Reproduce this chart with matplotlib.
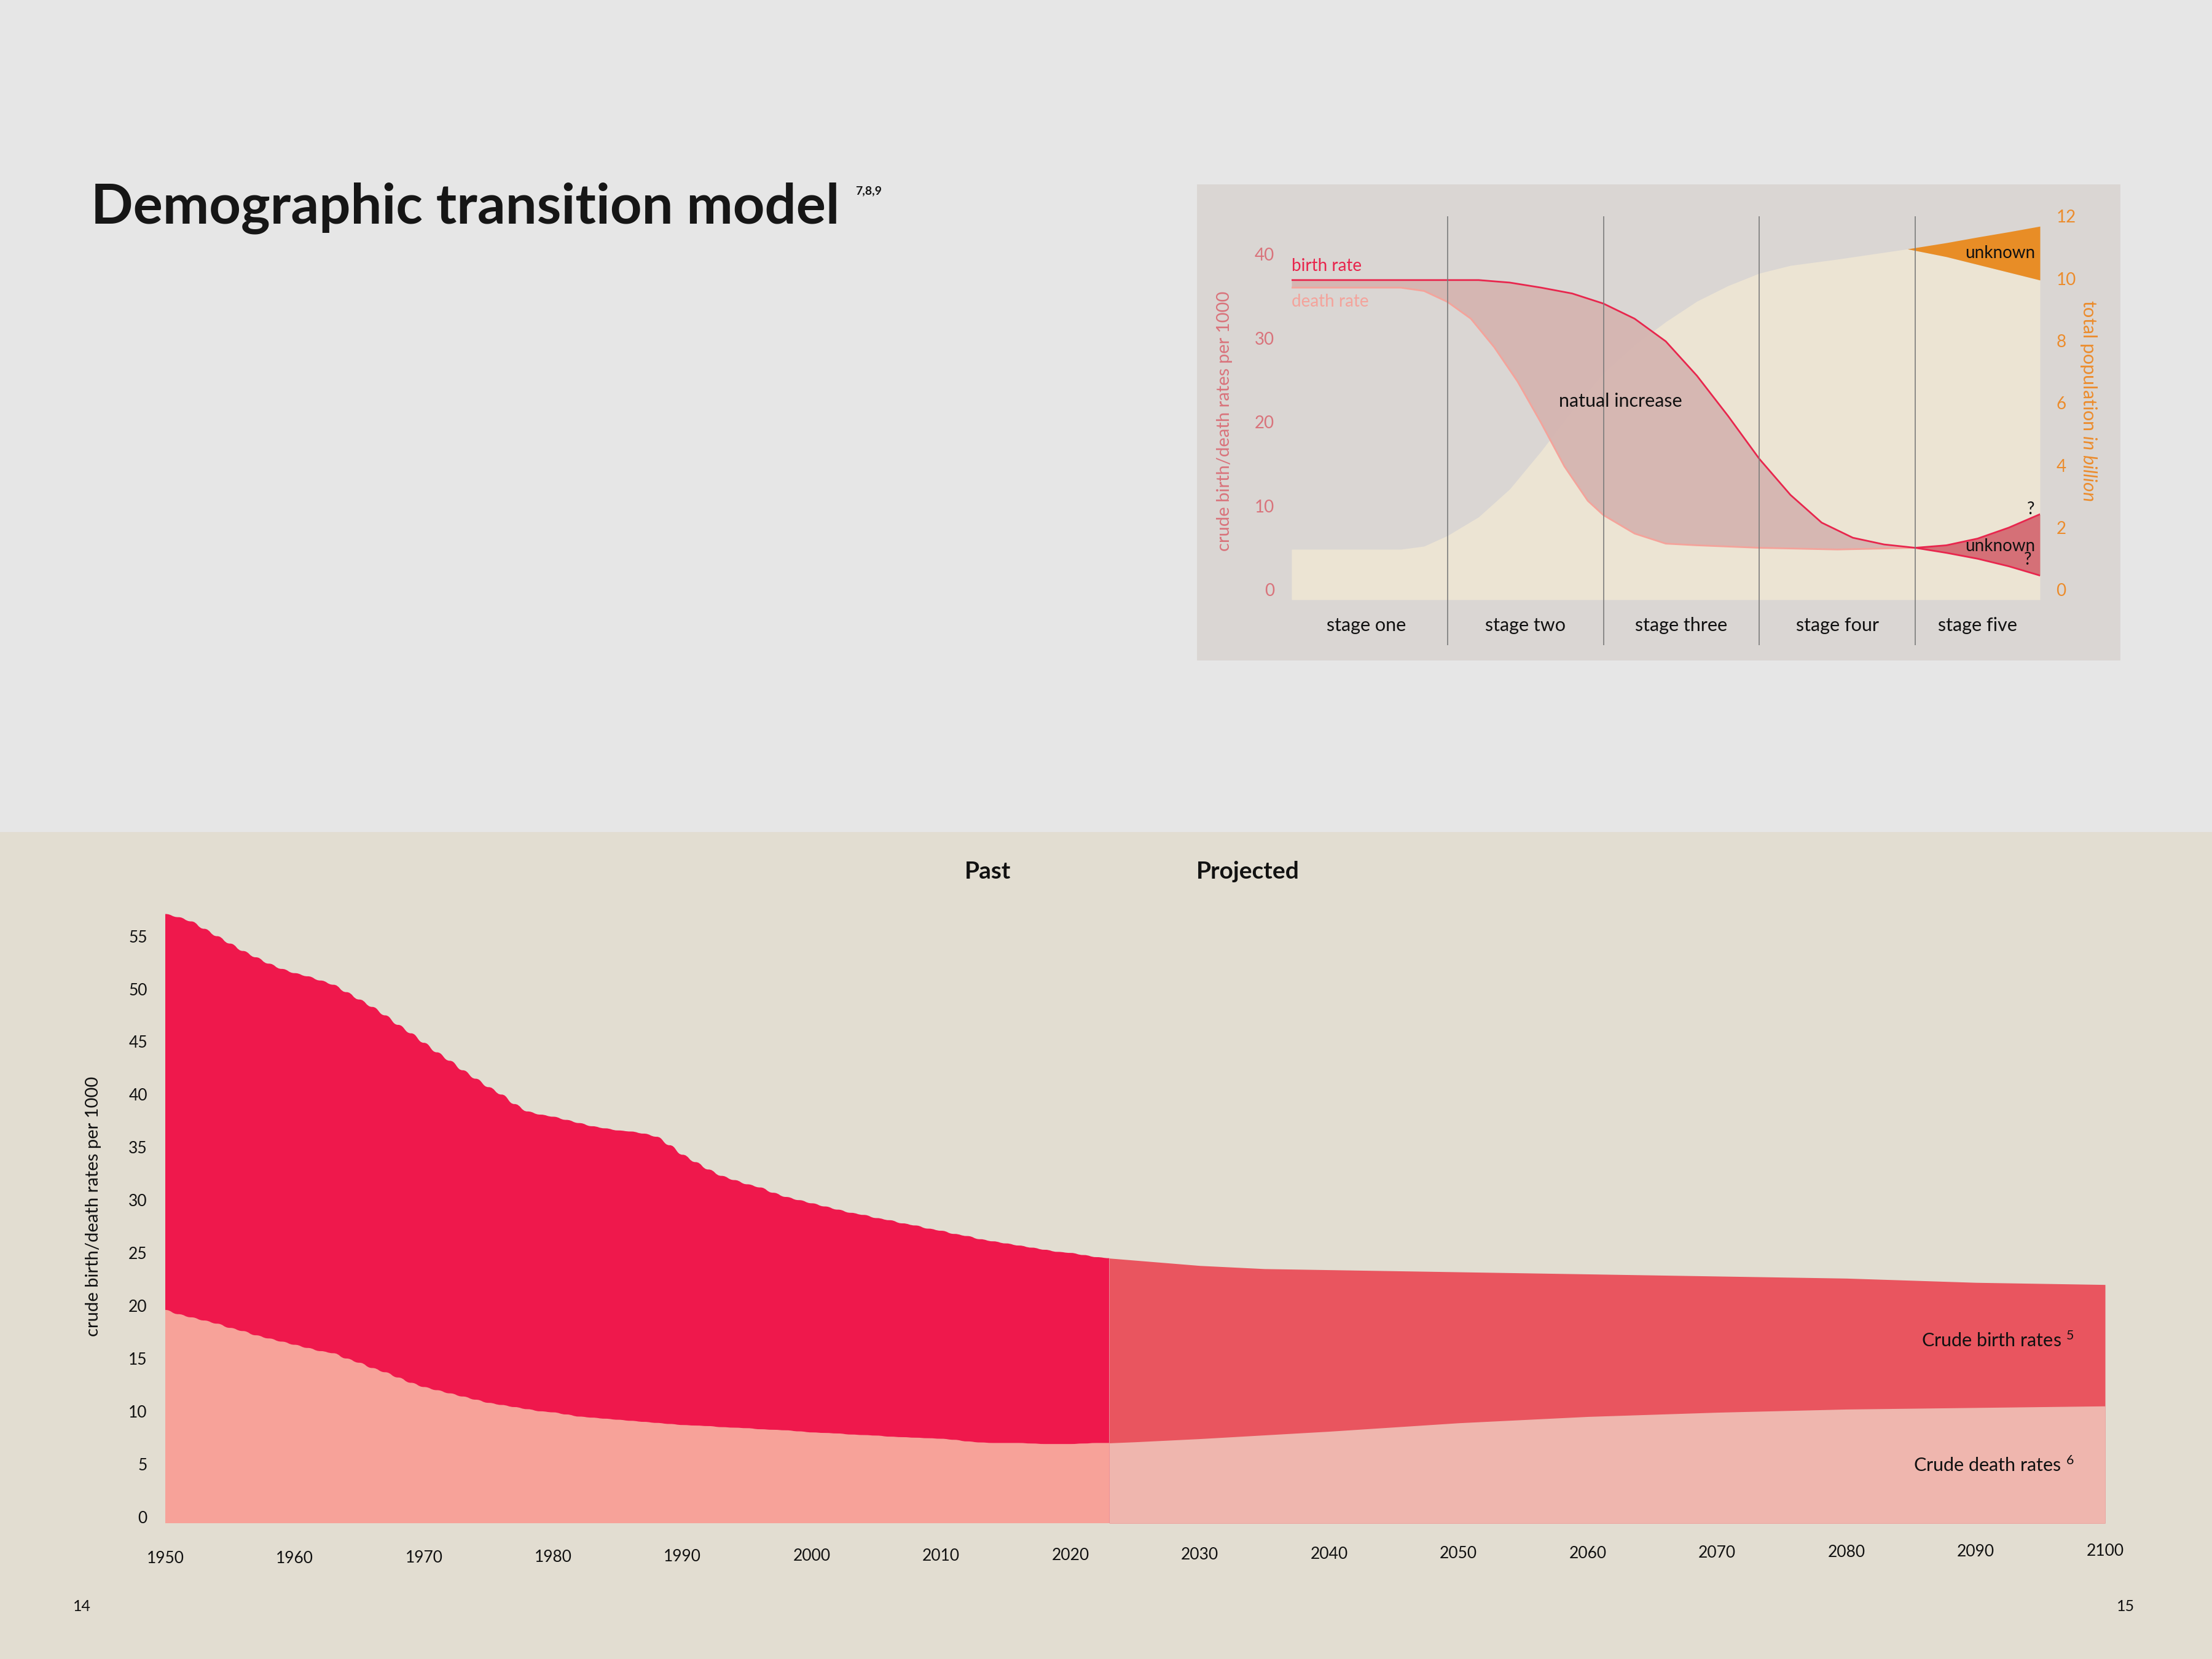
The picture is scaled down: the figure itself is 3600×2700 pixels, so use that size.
import numpy as np
import matplotlib
matplotlib.use('Agg')
import matplotlib.pyplot as plt
from matplotlib.path import Path
from matplotlib.patches import PathPatch, Rectangle
import matplotlib.transforms as mtransforms

plt.rcParams['font.family'] = ['Lato', 'DejaVu Sans']
plt.rcParams['mathtext.fontset'] = 'custom'
plt.rcParams['mathtext.rm'] = 'Lato'
plt.rcParams['mathtext.it'] = 'Lato:italic'

# ---- inset: demographic transition model (x in "stages") ----
stage_names = ['stage one', 'stage two', 'stage three', 'stage four', 'stage five']
stage_lines = [1, 2, 3, 4]

birth_x = [0, 0.5, 1.0, 1.2, 1.4, 1.6, 1.8, 2.0, 2.2, 2.4, 2.6, 2.8, 3.0, 3.2, 3.4, 3.6, 3.8, 4.0]
birth_y = [36.9, 36.9, 36.9, 36.9, 36.6, 36.0, 35.3, 34.1, 32.3, 29.6, 25.5, 20.7, 15.6, 11.3, 8.0, 6.2, 5.4, 5.0]
death_x = [0, 0.5, 0.7, 0.85, 1.0, 1.15, 1.3, 1.45, 1.6, 1.75, 1.9, 2.0, 2.2, 2.4, 2.6, 3.0, 3.5, 4.0]
death_y = [36.0, 36.0, 36.0, 35.6, 34.3, 32.3, 28.9, 24.8, 19.9, 14.7, 10.6, 8.9, 6.7, 5.5, 5.3, 5.0, 4.8, 5.0]

# stage five: unknown future rates
s5_x = [4.0, 4.2, 4.4, 4.6, 4.8]
s5_upper = [5.0, 5.3, 6.1, 7.4, 9.0]
s5_lower = [5.0, 4.4, 3.7, 2.8, 1.7]

pop_x = [0, 0.5, 0.7, 0.85, 1.0, 1.2, 1.4, 1.6, 1.8, 2.0, 2.2, 2.4, 2.6, 2.8, 3.0, 3.2, 3.5, 3.95, 4.2, 4.4, 4.6, 4.8]
pop_y = [1.3, 1.3, 1.3, 1.4, 1.74, 2.34, 3.24, 4.45, 5.75, 6.96, 7.86, 8.61, 9.27, 9.77, 10.17, 10.42, 10.62, 10.95, 10.70, 10.45, 10.20, 9.95]
pop_hi_x = [3.95, 4.2, 4.4, 4.6, 4.8]
pop_hi_y = [10.95, 11.15, 11.33, 11.50, 11.68]

# ---- main chart: crude birth / death rates ----
past_years = list(range(1950, 2024))
past_birth = [57.1, 56.8, 56.4, 55.7, 55.0, 54.3, 53.6, 53.0, 52.4, 51.9,
              51.5, 51.2, 50.8, 50.4, 49.7, 49.0, 48.3, 47.5, 46.6, 45.8,
              44.9, 44.0, 43.2, 42.3, 41.5, 40.7, 40.0, 39.1, 38.4, 38.1,
              37.9, 37.6, 37.3, 37.0, 36.8, 36.6, 36.5, 36.3, 36.0, 35.2,
              34.3, 33.6, 32.9, 32.3, 31.9, 31.5, 31.2, 30.7, 30.3, 30.0,
              29.7, 29.4, 29.1, 28.8, 28.6, 28.3, 28.1, 27.8, 27.6, 27.3,
              27.1, 26.8, 26.6, 26.3, 26.1, 25.9, 25.7, 25.5, 25.3, 25.1,
              25.0, 24.8, 24.6, 24.5]
past_death = [19.6, 19.2, 18.9, 18.6, 18.3, 17.9, 17.6, 17.2, 16.9, 16.6,
              16.3, 16.0, 15.7, 15.5, 15.0, 14.6, 14.1, 13.7, 13.2, 12.7,
              12.3, 12.0, 11.7, 11.4, 11.1, 10.8, 10.6, 10.4, 10.2, 10.0,
              9.9, 9.7, 9.5, 9.4, 9.3, 9.2, 9.1, 9.0, 8.9, 8.8,
              8.7, 8.65, 8.6, 8.5, 8.45, 8.4, 8.3, 8.25, 8.2, 8.1,
              8.0, 7.95, 7.9, 7.8, 7.75, 7.7, 7.6, 7.55, 7.5, 7.45,
              7.4, 7.3, 7.15, 7.05, 7.0, 7.0, 7.0, 6.95, 6.9, 6.9,
              6.9, 6.95, 7.0, 7.0]
proj_years = [2023, 2025, 2030, 2035, 2040, 2050, 2060, 2070, 2080, 2090, 2100]
proj_birth = [24.5, 24.3, 23.8, 23.5, 23.4, 23.2, 23.0, 22.8, 22.6, 22.2, 22.0]
proj_death = [7.0, 7.1, 7.4, 7.75, 8.1, 8.9, 9.5, 9.9, 10.2, 10.35, 10.5]

year_ticks = list(range(1950, 2101, 10))
rate_ticks = list(range(0, 56, 5))


def bump_area(xs, ys, base):
    # area under a curve drawn with flat tangents at every yearly point
    verts = [(xs[0], base), (xs[0], ys[0])]
    codes = [Path.MOVETO, Path.LINETO]
    for i in range(1, len(xs)):
        xm = (xs[i - 1] + xs[i]) / 2
        verts += [(xm, ys[i - 1]), (xm, ys[i]), (xs[i], ys[i])]
        codes += [Path.CURVE4] * 3
    verts += [(xs[-1], base), (xs[0], base)]
    codes += [Path.LINETO, Path.CLOSEPOLY]
    return Path(verts, codes)


W, H = 3600, 2700
fig = plt.figure(figsize=(18, 13.5), dpi=200)

# page backgrounds
fig.patches.append(Rectangle((0, 1 - 1355 / H), 1, 1355 / H, transform=fig.transFigure,
                             color='#e6e6e6', zorder=-10))
fig.patches.append(Rectangle((0, 0), 1, 1 - 1355 / H, transform=fig.transFigure,
                             color='#e2ddd1', zorder=-10))
fig.patches.append(Rectangle((1949 / W, 1 - 1073 / H), 1500 / W, 772 / H, transform=fig.transFigure,
                             color='#dad6d3', zorder=-9))

fig.text(148 / W, 1 - 363 / H, 'Demographic transition model', fontsize=32.5, fontweight='bold',
         color='#161616', va='baseline', ha='left')
fig.text(1392 / W, 1 - 302 / H, '7,8,9', fontsize=7, fontweight='bold', color='#161616',
         va='top', ha='left')

# ---------------- inset ----------------
rect = [2102 / W, 1 - 1050 / H, 1218 / W, 698 / H]
axp = fig.add_axes(rect)          # population (right scale), drawn underneath
axr = axp.twinx()
axr.set_zorder(axp.get_zorder() + 1)
axp.patch.set_visible(False)
axr.patch.set_visible(False)

# axp owns right-hand ticks, axr owns left-hand ticks
axp.yaxis.tick_right()
axp.yaxis.set_label_position('right')
axr.yaxis.tick_left()
axr.yaxis.set_label_position('left')

axp.fill_between(pop_x, -0.32, pop_y, color='#ece4d3', lw=0)
axp.fill_between(pop_hi_x, pop_y[-5:], pop_hi_y, color='#e88d26', lw=0)
axp.set_ylim(-1.78, 11.96)
axp.set_xlim(0, 4.8)
axp.set_yticks(range(0, 13, 2))
axp.tick_params(axis='y', length=0, pad=9.5, labelsize=10, labelcolor='#ec8c2c')
axp.set_ylabel(r'total population $\it{in\ billion}$', color='#ec8c2c', fontsize=11,
               rotation=270)
axp.yaxis.set_label_coords(1.078, 0.57)
axp.text(4.77, 10.82, 'unknown', fontsize=10, ha='right', va='center', color='#111111')

bx = np.array(birth_x)
dx = np.array(death_x)
grid = np.union1d(bx, dx)
axr.fill_between(grid, np.interp(grid, dx, death_y), np.interp(grid, bx, birth_y),
                 color='#d5b4b0', alpha=0.92, lw=0)
axr.fill_between(s5_x, s5_lower, s5_upper, color='#d57077', lw=0)
axr.plot(death_x, death_y, color='#f4a39b', lw=1.0)
axr.plot(birth_x, birth_y, color='#e8264d', lw=1.0)
axr.plot(s5_x, s5_upper, color='#e8264d', lw=1.0)
axr.plot(s5_x, s5_lower, color='#e8264d', lw=1.0)
axr.set_ylim(-6.6, 44.5)
axr.set_xlim(0, 4.8)
axr.set_yticks(range(0, 41, 10))
axr.tick_params(axis='y', length=0, pad=10, labelsize=10, labelcolor='#d9737b')
axr.set_ylabel('crude birth/death rates per 1000', color='#d9737b', fontsize=10.5)
axr.yaxis.set_label_coords(-0.079, 0.523)

for xl in stage_lines:
    axr.axvline(xl, color='#7b7b7b', lw=0.6)

trans = mtransforms.blended_transform_factory(axr.transData, axr.transAxes)
stage_mid = [0.48, 1.5, 2.5, 3.5, 4.4]
for xm, name in zip(stage_mid, stage_names):
    axr.text(xm, 0.046, name, transform=trans, ha='center', va='center', fontsize=11,
             color='#111111')

axr.text(0.0, 38.6, 'birth rate', color='#e8264d', fontsize=10, ha='left', va='center')
axr.text(0.0, 34.3, 'death rate', color='#f4a39b', fontsize=10, ha='left', va='center')
axr.text(2.11, 22.5, 'natual increase', fontsize=11, ha='center', va='center', color='#111111')
axr.text(4.77, 5.2, 'unknown', fontsize=10, ha='right', va='center', color='#111111')
axr.text(4.74, 9.6, '?', fontsize=10, ha='center', va='center', color='#111111')
axr.text(4.72, 3.55, '?', fontsize=10, ha='center', va='center', color='#111111')

for a in (axp, axr):
    a.set_xticks([])
    for sp in a.spines.values():
        sp.set_visible(False)

# ---------------- main chart ----------------
ax = fig.add_axes([269 / W, 1 - 2479 / H, 3157 / W, 1031 / H])
ax.patch.set_visible(False)
ax.set_xlim(1950, 2100)
ax.set_ylim(-0.6, 59.4)     # the filled areas run a little below the 0 label
base = ax.get_ylim()[0]

ax.add_patch(PathPatch(bump_area(past_years, past_birth, base), facecolor='#ef184c', lw=0))
ax.add_patch(PathPatch(bump_area(past_years, past_death, base), facecolor='#f7a299', lw=0))
ax.fill_between(proj_years, base, proj_birth, color='#e9555f', lw=0)
ax.fill_between(proj_years, base, proj_death, color='#efb6ae', lw=0)

ax.set_yticks(rate_ticks)
ax.tick_params(axis='y', length=0, pad=10.5, labelsize=9.5, labelcolor='#111111')
ax.set_xticks([])
ax.set_ylabel('crude birth/death rates per 1000', fontsize=10.5, color='#111111')
ax.yaxis.set_label_coords(-0.033, 0.5)
for sp in ax.spines.values():
    sp.set_visible(False)

xtrans = mtransforms.blended_transform_factory(ax.transData, ax.transAxes)
for i, yr in enumerate(year_ticks):
    off = 58 - 12 * i / (len(year_ticks) - 1)
    ax.text(yr, -off / 1031, str(yr), transform=xtrans, ha='center', va='center',
            fontsize=9.5, color='#111111')

ax.text(2013.6, 61.1, 'Past', fontsize=14, fontweight='bold', ha='center', va='center',
        color='#111111', clip_on=False)
ax.text(2033.7, 61.1, 'Projected', fontsize=14, fontweight='bold', ha='center', va='center',
        color='#111111', clip_on=False)
ax.text(2097.6, 16.7, r'Crude birth rates $^{5}$', fontsize=11, ha='right', va='center',
        color='#111111')
ax.text(2097.6, 4.9, r'Crude death rates $^{6}$', fontsize=11, ha='right', va='center',
        color='#111111')

fig.text(133 / W, 1 - 2615 / H, '14', fontsize=9, ha='center', va='center', color='#111111')
fig.text(3460 / W, 1 - 2615 / H, '15', fontsize=9, ha='center', va='center', color='#111111')

fig.savefig('out.png', dpi=200)
